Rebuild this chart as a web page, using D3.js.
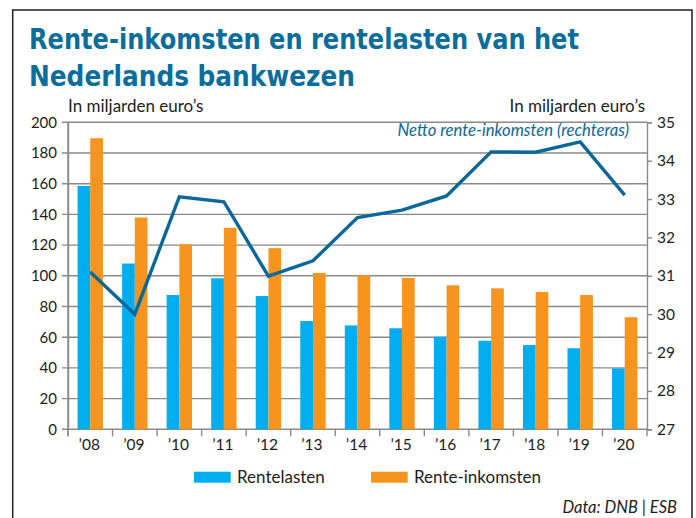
<!DOCTYPE html>
<html lang="nl">
<head>
<meta charset="UTF-8">
<title>Rente-inkomsten en rentelasten</title>
<script src="https://d3js.org/d3.v7.min.js"></script>
<style>
  body { margin: 0; background: #fff; }
  text { font-family: Lato, "Open Sans", sans-serif; fill: #1d1d1b; }
</style>
</head>
<body>
<svg id="chart" width="696" height="518"></svg>
<script>
const years = ["’08", "’09", "’10", "’11", "’12", "’13", "’14", "’15", "’16", "’17", "’18", "’19", "’20"];
const rentelasten = [158.5, 108, 87.5, 98.4, 86.8, 70.5, 67.7, 65.8, 60.3, 57.7, 54.9, 52.8, 39.7];
const renteInkomsten = [189.6, 138, 120.5, 131.3, 118, 101.8, 100.3, 98.6, 93.8, 91.8, 89.4, 87.5, 73];
const netto = [31.1, 30.0, 33.06, 32.93, 30.99, 31.39, 32.52, 32.71, 33.08, 34.23, 34.22, 34.49, 33.1];
const leftTicks = [0, 20, 40, 60, 80, 100, 120, 140, 160, 180, 200];
const rightTicks = [27, 28, 29, 30, 31, 32, 33, 34, 35];

const blue = "#00aeef", orange = "#f7941d", lineBlue = "#0b6797", titleBlue = "#0b6d9b";
const svg = d3.select("#chart");

// frame
svg.append("path")
    .attr("d", "M12.7,518 V10 H692 V518")
    .attr("fill", "none").attr("stroke", "#231f20").attr("stroke-width", 1.5);

// title
const title = ["Rente-inkomsten en rentelasten van het", "Nederlands bankwezen"];
const titleW = [550, 326];
title.forEach((t, i) => {
    svg.append("text")
        .attr("x", 29).attr("y", 49 + i * 37)
        .attr("textLength", titleW[i]).attr("lengthAdjust", "spacingAndGlyphs")
        .style("font-family", "'DejaVu Sans Condensed', 'Liberation Sans Narrow', sans-serif")
        .style("font-weight", "bold").style("font-size", "29px")
        .style("fill", titleBlue)
        .text(t);
});

const plotL = 68, plotR = 647, plotT = 122.3, plotB = 429.3;

const x = d3.scaleBand().domain(years).range([plotL, plotR]);
const yL = d3.scaleLinear().domain([0, 200]).range([plotB, plotT]);
const yR = d3.scaleLinear().domain([27, 35]).range([plotB, plotT]);

// gridlines
svg.append("g").selectAll("line").data(leftTicks).join("line")
    .attr("x1", plotL - 6).attr("x2", plotR)
    .attr("y1", d => yL(d)).attr("y2", d => yL(d))
    .attr("stroke", "#8a8a8a").attr("stroke-width", 1.4);

// left axis
const axL = svg.append("g").attr("transform", `translate(${plotL},0)`)
    .call(d3.axisLeft(yL).tickValues(leftTicks).tickSize(0).tickPadding(11));
axL.select(".domain").attr("stroke", "#8a8a8a").attr("stroke-width", 1.4);
axL.selectAll("text").style("font-size", "15px").style("font-family", "Lato, sans-serif").attr("fill", "#1d1d1b");
svg.append("line").attr("x1", plotL).attr("x2", plotL).attr("y1", plotT).attr("y2", plotB + 7)
    .attr("stroke", "#8a8a8a").attr("stroke-width", 1.4);

// right axis
const axR = svg.append("g").attr("transform", `translate(${plotR},0)`)
    .call(d3.axisRight(yR).tickValues(rightTicks).tickSize(5).tickPadding(5));
axR.select(".domain").attr("stroke", "#8a8a8a").attr("stroke-width", 1.4);
axR.selectAll(".tick line").attr("stroke", "#8a8a8a").attr("stroke-width", 1.4);
axR.selectAll("text").style("font-size", "15.5px").style("font-family", "Lato, sans-serif").attr("fill", "#1d1d1b");

// bottom ticks at band edges
const edges = years.map(d => x(d)).concat([plotR]);
svg.append("g").selectAll("line").data(edges).join("line")
    .attr("x1", d => d).attr("x2", d => d)
    .attr("y1", plotB).attr("y2", plotB + 7)
    .attr("stroke", "#8a8a8a").attr("stroke-width", 1.4);

// x labels
svg.append("g").selectAll("text").data(years).join("text")
    .attr("x", d => x(d) + x.bandwidth() / 2 - 1)
    .attr("y", 450)
    .attr("text-anchor", "middle")
    .style("font-size", "15.5px")
    .text(d => d);

// bars
const bw = x.bandwidth() * 0.285;
svg.append("g").selectAll("rect").data(rentelasten).join("rect")
    .attr("x", (d, i) => x(years[i]) + x.bandwidth() / 2 - bw)
    .attr("y", d => yL(d)).attr("width", bw).attr("height", d => plotB - yL(d))
    .attr("fill", blue);
svg.append("g").selectAll("rect").data(renteInkomsten).join("rect")
    .attr("x", (d, i) => x(years[i]) + x.bandwidth() / 2)
    .attr("y", d => yL(d)).attr("width", bw).attr("height", d => plotB - yL(d))
    .attr("fill", orange);

// netto line
const line = d3.line()
    .x((d, i) => x(years[i]) + x.bandwidth() / 2)
    .y(d => yR(d));
svg.append("path").datum(netto)
    .attr("d", line)
    .attr("fill", "none").attr("stroke", lineBlue).attr("stroke-width", 3.4)
    .attr("stroke-linejoin", "miter");

// unit labels
svg.append("text").attr("x", 68).attr("y", 112).style("font-size", "17px").text("In miljarden euro’s");
svg.append("text").attr("x", 645).attr("y", 112).attr("text-anchor", "end").style("font-size", "17px").text("In miljarden euro’s");

svg.append("text").attr("x", 629).attr("y", 136).attr("text-anchor", "end")
    .style("font-size", "16.7px").style("font-style", "italic").style("fill", lineBlue)
    .text("Netto rente-inkomsten (rechteras)");

// legend
const legend = [["Rentelasten", blue, 194], ["Rente-inkomsten", orange, 371]];
legend.forEach(([name, col, lx]) => {
    svg.append("rect").attr("x", lx).attr("y", 471.7).attr("width", 36.7).attr("height", 11).attr("fill", col);
    svg.append("text").attr("x", lx + 43).attr("y", 483).style("font-size", "17px").text(name);
});

svg.append("text").attr("x", 677).attr("y", 513).attr("text-anchor", "end")
    .style("font-size", "16.5px").style("font-style", "italic")
    .text("Data: DNB | ESB");
</script>
</body>
</html>
